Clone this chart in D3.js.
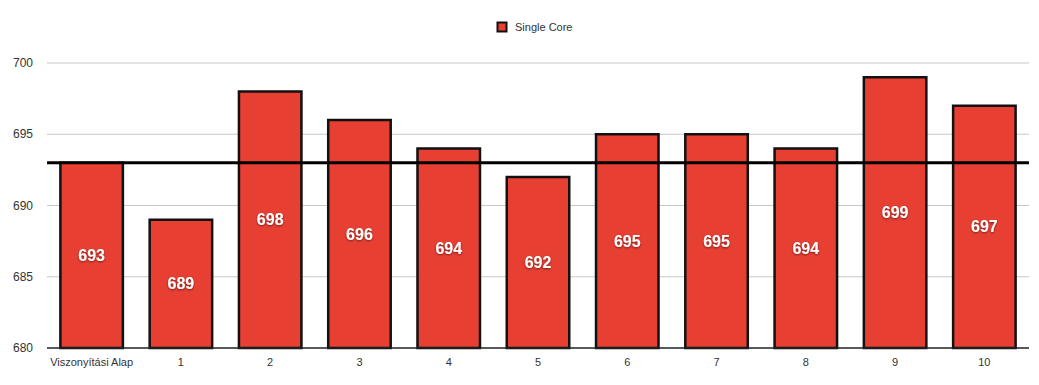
<!DOCTYPE html>
<html><head><meta charset="utf-8">
<script src="https://cdn.jsdelivr.net/npm/d3@7"></script>
<style>body{margin:0;background:#fff}svg{display:block}</style>
</head><body><svg id="c" width="1039" height="385"></svg>
<script>
const categories = ["Viszonyítási Alap","1","2","3","4","5","6","7","8","9","10"];
const singleCore = [693,689,698,696,694,692,695,695,694,699,697];
const yTicks = [680,685,690,695,700];
const referenceValue = 693;
const seriesName = "Single Core";

const svg = d3.select("#c");
const W = 1039, H = 385;
const m = {left:47, right:10, top:63, bottom:37};
const x = d3.scaleBand().domain(categories).range([m.left, W-m.right]).paddingInner(0.3).paddingOuter(0.15);
const y = d3.scaleLinear().domain([680,700]).range([H-m.bottom, m.top]);

const defs = svg.append("defs");
const f = defs.append("filter").attr("id","sh").attr("x","-20%").attr("y","-20%").attr("width","140%").attr("height","140%");
f.append("feDropShadow").attr("dx",0).attr("dy",1).attr("stdDeviation",1).attr("flood-color","#000").attr("flood-opacity",0.5);

// grid
svg.append("g").selectAll("line").data(yTicks.filter(d=>d!==680)).join("line")
  .attr("x1",m.left).attr("x2",W-m.right).attr("y1",d=>y(d)).attr("y2",d=>y(d))
  .attr("stroke","#c8c8c8").attr("stroke-width",1);

// y tick labels
svg.append("g").selectAll("text").data(yTicks).join("text")
  .attr("x",33).attr("y",d=>y(d)).attr("dy","0.35em").attr("text-anchor","end")
  .attr("font-family","Liberation Sans, Arial, sans-serif").attr("font-size",12).attr("fill","#333")
  .text(d=>d);

// bars
svg.append("g").selectAll("rect").data(singleCore).join("rect")
  .attr("x",(d,i)=>x(categories[i])).attr("width",x.bandwidth())
  .attr("y",d=>y(d)).attr("height",d=>y(680)-y(d))
  .attr("fill","#e83f33").attr("stroke","#111").attr("stroke-width",2.5);

// baseline
svg.append("line").attr("x1",m.left).attr("x2",W-m.right).attr("y1",y(680)).attr("y2",y(680))
  .attr("stroke","#222").attr("stroke-width",1.5);

// reference line
svg.append("line").attr("x1",m.left).attr("x2",W-m.right).attr("y1",y(referenceValue)).attr("y2",y(referenceValue))
  .attr("stroke","#000").attr("stroke-width",3);

// value labels
svg.append("g").selectAll("text").data(singleCore).join("text")
  .attr("x",(d,i)=>x(categories[i])+x.bandwidth()/2)
  .attr("y",d=>(y(d)+y(680))/2).attr("dy","0.35em").attr("text-anchor","middle")
  .attr("font-family","Liberation Sans, Arial, sans-serif").attr("font-weight","bold").attr("font-size",16)
  .attr("fill","#fff").attr("filter","url(#sh)").text(d=>d);

// category labels
svg.append("g").selectAll("text").data(categories).join("text")
  .attr("x",d=>x(d)+x.bandwidth()/2).attr("y",362).attr("dy","0.35em").attr("text-anchor","middle")
  .attr("font-family","Liberation Sans, Arial, sans-serif").attr("font-size",11).attr("fill","#333")
  .text(d=>d);

// legend
const lg = svg.append("g");
lg.append("rect").attr("x",497.5).attr("y",22.5).attr("width",9).attr("height",9)
  .attr("fill","#e83f33").attr("stroke","#111").attr("stroke-width",2);
lg.append("text").attr("x",515).attr("y",27).attr("dy","0.35em")
  .attr("font-family","Liberation Sans, Arial, sans-serif").attr("font-size",11).attr("fill","#333").text(seriesName);
</script></body></html>
